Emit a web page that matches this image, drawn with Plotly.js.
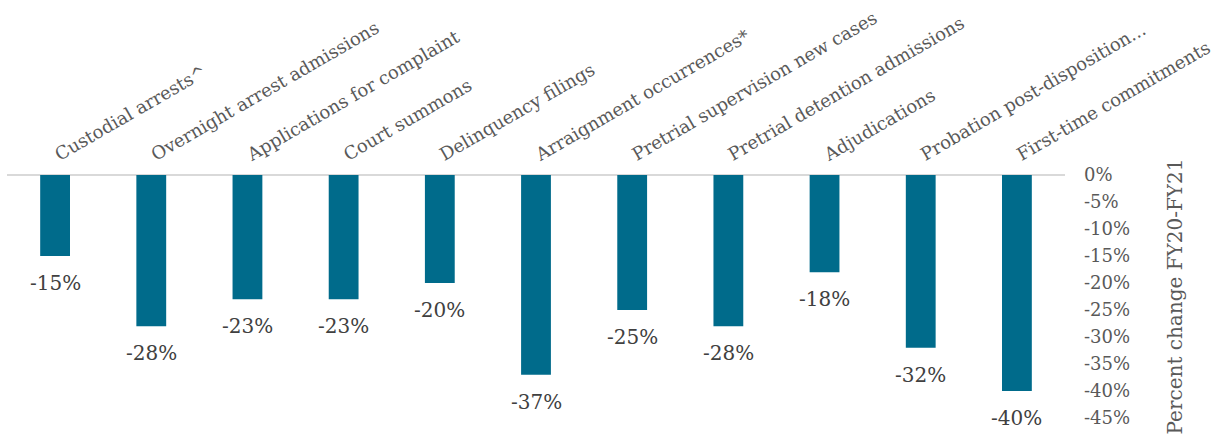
<!DOCTYPE html>
<html>
<head>
<meta charset="utf-8">
<script src="https://cdn.plot.ly/plotly-3.0.1.min.js"></script>
<style>
html,body{margin:0;padding:0;background:#fff;}
#chart{width:1218px;height:441px;}
</style>
</head>
<body>
<div id="chart"></div>
<script>
const categories = [
  "Custodial arrests^",
  "Overnight arrest admissions",
  "Applications for complaint",
  "Court summons",
  "Delinquency filings",
  "Arraignment occurrences*",
  "Pretrial supervision new cases",
  "Pretrial detention admissions",
  "Adjudications",
  "Probation post-disposition...",
  "First-time commitments"
];
const values = [-15, -28, -23, -23, -20, -37, -25, -28, -18, -32, -40];
const tickVals = [0, -5, -10, -15, -20, -25, -30, -35, -40, -45];
const tickText = ["0%", "-5%", "-10%", "-15%", "-20%", "-25%", "-30%", "-35%", "-40%", "-45%"];

const FONT = "DejaVu Serif, Liberation Serif, serif";

const trace = {
  type: "bar",
  x: categories,
  y: values,
  marker: {color: "#006b8b", line: {width: 0}},
  hoverinfo: "skip"
};

const annotations = categories.map((c, i) => ({
  x: c,
  y: values[i],
  xref: "x",
  yref: "y",
  text: values[i] + "%",
  showarrow: false,
  xanchor: "center",
  yanchor: "middle",
  yshift: -27,
  font: {family: FONT, size: 20, color: "#404040"}
}));

const layout = {
  width: 1218,
  height: 441,
  margin: {l: 7, r: 153, t: 175, b: 23},
  paper_bgcolor: "#fff",
  plot_bgcolor: "#fff",
  showlegend: false,
  bargap: 0.69,
  font: {family: FONT, color: "#595959"},
  annotations: annotations,
  xaxis: {
    side: "top",
    tickangle: -30,
    tickfont: {family: FONT, size: 18, color: "#595959"},
    showline: false,
    showgrid: false,
    zeroline: false,
    ticks: "",
    ticklen: 0,
    ticklabelstandoff: 8,
    automargin: false
  },
  yaxis: {
    side: "right",
    range: [-45, 0],
    tickvals: tickVals,
    ticktext: tickText,
    tickfont: {family: FONT, size: 18, color: "#595959"},
    showgrid: false,
    zeroline: true,
    zerolinecolor: "#d9d9d9",
    zerolinewidth: 2,
    showline: false,
    ticks: "",
    ticklabelstandoff: 18,
    title: {text: "Percent change FY20-FY21", font: {family: FONT, size: 20, color: "#595959"}, standoff: 38},
    automargin: false
  }
};

Plotly.newPlot("chart", [trace], layout, {displayModeBar: false, staticPlot: true});
</script>
</body>
</html>
